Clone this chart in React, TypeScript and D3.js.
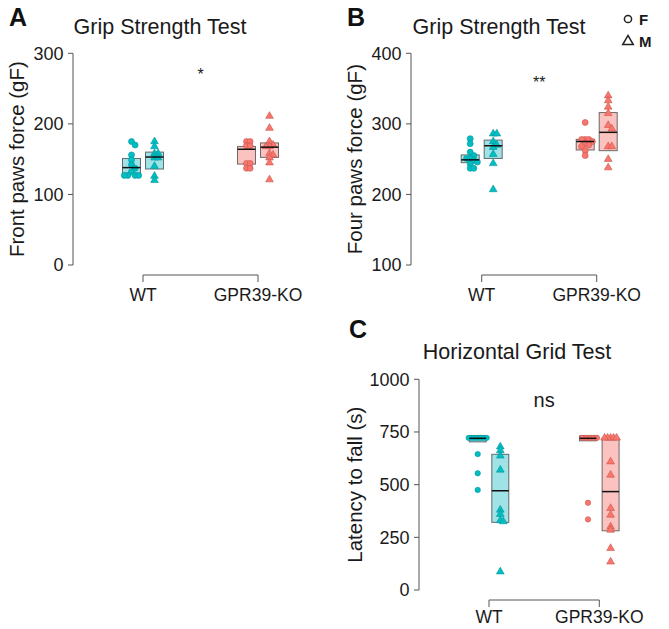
import React from "react";
import * as d3 from "d3";

// ---------- data ----------
const groups = ["WT", "GPR39-KO"];
const sexes = ["F", "M"];

// Panel A: front paws force (gF)
const frontWT_F = [175, 170, 156, 149, 142, 137, 132, 127, 127, 127, 127];
const frontWT_M = [175, 168, 158, 158, 152, 152, 140, 126, 120];
const frontKO_F = [175, 175, 169, 169, 144, 144, 137, 137];
const frontKO_M = [211, 194, 175, 170, 168, 168, 158, 156, 152, 145, 121];
// box: [low, mid, high]
const frontBoxWT_F = [130, 138, 151];
const frontBoxWT_M = [136, 153, 160];
const frontBoxKO_F = [143, 164, 168];
const frontBoxKO_M = [152.5, 167, 173];
const frontTicks = [0, 100, 200, 300];

// Panel B: four paws force (gF)
const fourWT_F = [279, 272, 260, 255, 251, 251, 248, 246, 243, 237, 237];
const fourWT_M = [286, 286, 275, 270, 267, 257, 244, 207];
const fourKO_F = [302, 278, 278, 278, 275, 272, 270, 268, 262, 255];
const fourKO_M = [340, 333, 324, 315, 298, 293, 268, 268, 250, 238];
const fourBoxWT_F = [245, 249, 256];
const fourBoxWT_M = [251, 269, 277];
const fourBoxKO_F = [263, 275, 278];
const fourBoxKO_M = [262, 288, 316];
const fourTicks = [100, 200, 300, 400];

// Panel C: latency to fall (s)
const gridWT_F = [722, 722, 722, 722, 722, 722, 722, 645, 554, 475];
const gridWT_M = [680, 662, 637, 570, 380, 360, 330, 325, 87];
const gridKO_F = [722, 722, 722, 722, 722, 722, 414, 335];
const gridKO_M = [722, 722, 722, 722, 722, 609, 546, 388, 356, 300, 285, 198, 134];
const gridBoxWT_F = [703, 720, 732];
const gridBoxWT_M = [321, 471, 644];
const gridBoxKO_F = [708, 720, 732];
const gridBoxKO_M = [281, 467, 720];
const gridTicks = [0, 250, 500, 750, 1000];

// ---------- styling ----------
const FONT = "'Liberation Sans', Arial, Helvetica, sans-serif";
const groupFill = ["#00BFC4", "#F8766D"];
const groupStroke = ["#00949a", "#c9564e"];
const boxFill = ["#9fe3e6", "#fbc3bf"];

type PanelCfg = {
  letter: string;
  letterX: number;
  letterY: number;
  title: string;
  titleX: number;
  titleY: number;
  yLabel: string;
  yLabelX: number;
  axisX: number;
  yTop: number;
  yBottom: number;
  domain: [number, number];
  ticks: number[];
  groupX: [number, number];
  bracketY: number;
  xLabelY: number;
  sexOffset: number;
  boxW: number;
  spacing: number;
  r: number;
  tri: number;
  values: number[][][]; // [group][sex]
  boxes: number[][][];
  annot: string;
  annotY: number;
  annotSize: number;
};

const panels: PanelCfg[] = [
  {
    letter: "A", letterX: 9, letterY: 26,
    title: "Grip Strength Test", titleX: 160, titleY: 34,
    yLabel: "Front paws force (gF)", yLabelX: 24,
    axisX: 73, yTop: 53.3, yBottom: 265, domain: [0, 300], ticks: frontTicks,
    groupX: [143, 258], bracketY: 275, xLabelY: 301,
    sexOffset: 11.5, boxW: 18, spacing: 3.6, r: 3, tri: 26,
    values: [[frontWT_F, frontWT_M], [frontKO_F, frontKO_M]],
    boxes: [[frontBoxWT_F, frontBoxWT_M], [frontBoxKO_F, frontBoxKO_M]],
    annot: "*", annotY: 80, annotSize: 16,
  },
  {
    letter: "B", letterX: 347, letterY: 26,
    title: "Grip Strength Test", titleX: 499, titleY: 34,
    yLabel: "Four paws force (gF)", yLabelX: 362,
    axisX: 411, yTop: 53.3, yBottom: 265, domain: [100, 400], ticks: fourTicks,
    groupX: [481.7, 596.7], bracketY: 275, xLabelY: 301,
    sexOffset: 11.5, boxW: 18, spacing: 3.6, r: 3, tri: 26,
    values: [[fourWT_F, fourWT_M], [fourKO_F, fourKO_M]],
    boxes: [[fourBoxWT_F, fourBoxWT_M], [fourBoxKO_F, fourBoxKO_M]],
    annot: "**", annotY: 88, annotSize: 16,
  },
  {
    letter: "C", letterX: 349, letterY: 338,
    title: "Horizontal Grid Test", titleX: 517, titleY: 359,
    yLabel: "Latency to fall (s)", yLabelX: 362,
    axisX: 419, yTop: 379.3, yBottom: 590, domain: [0, 1000], ticks: gridTicks,
    groupX: [489, 599.3], bracketY: 600, xLabelY: 623,
    sexOffset: 11.3, boxW: 17, spacing: 3, r: 2.7, tri: 26,
    values: [[gridWT_F, gridWT_M], [gridKO_F, gridKO_M]],
    boxes: [[gridBoxWT_F, gridBoxWT_M], [gridBoxKO_F, gridBoxKO_M]],
    annot: "ns", annotY: 407, annotSize: 20,
  },
];

// simple beeswarm: greedy placement around centre
function swarm(values: number[], y: (v: number) => number, cx: number, s: number) {
  const sorted = [...values].sort((a, b) => b - a);
  const placed: { x: number; y: number }[] = [];
  for (const v of sorted) {
    const py = y(v);
    let k = 0;
    let px = cx;
    while (true) {
      const off = k === 0 ? 0 : (k % 2 === 1 ? 1 : -1) * Math.ceil(k / 2) * s;
      px = cx + off;
      const hit = placed.some((p) => Math.hypot(p.x - px, p.y - py) < s - 0.01);
      if (!hit) break;
      k++;
    }
    placed.push({ x: px, y: py });
  }
  return placed;
}

function Panel({ cfg }: { cfg: PanelCfg }) {
  const y = d3.scaleLinear().domain(cfg.domain).range([cfg.yBottom, cfg.yTop]);
  const x = d3.scalePoint<string>().domain(groups).range(cfg.groupX);
  const tri = d3.symbol().type(d3.symbolTriangle).size(cfg.tri)()!;
  const midY = (cfg.yTop + cfg.yBottom) / 2;
  const x0 = x(groups[0])!;
  const x1 = x(groups[groups.length - 1])!;

  return (
    <g>
      <text x={cfg.letterX} y={cfg.letterY} fontFamily={FONT} fontWeight="bold" fontSize={25} fill="#111">
        {cfg.letter}
      </text>
      <text x={cfg.titleX} y={cfg.titleY} textAnchor="middle" fontFamily={FONT} fontSize={21.5} fill="#1a1a1a">
        {cfg.title}
      </text>
      <text
        transform={`translate(${cfg.yLabelX},${midY}) rotate(-90)`}
        textAnchor="middle"
        fontFamily={FONT}
        fontSize={20.5}
        fill="#1a1a1a"
      >
        {cfg.yLabel}
      </text>
      {/* y axis */}
      <line x1={cfg.axisX} x2={cfg.axisX} y1={y(cfg.ticks[0])} y2={y(cfg.ticks[cfg.ticks.length - 1])} stroke="#555" strokeWidth={1} />
      {cfg.ticks.map((t) => (
        <g key={t}>
          <line x1={cfg.axisX - 5} x2={cfg.axisX} y1={y(t)} y2={y(t)} stroke="#555" strokeWidth={1} />
          <text x={cfg.axisX - 9.5} y={y(t)} dy="0.36em" textAnchor="end" fontFamily={FONT} fontSize={18} fill="#1a1a1a">
            {t}
          </text>
        </g>
      ))}
      {/* x bracket axis */}
      <path
        d={`M${x0},${cfg.bracketY + 7}V${cfg.bracketY}H${x1}V${cfg.bracketY + 7}`}
        fill="none"
        stroke="#555"
        strokeWidth={1}
      />
      {groups.map((g) => (
        <text key={g} x={x(g)} y={cfg.xLabelY} textAnchor="middle" fontFamily={FONT} fontSize={17.5} fill="#1a1a1a">
          {g}
        </text>
      ))}
      {/* boxes and points */}
      {groups.map((g, gi) =>
        sexes.map((s, si) => {
          const cx = x(g)! + (si === 0 ? -1 : 1) * cfg.sexOffset;
          const [lo, mid, hi] = cfg.boxes[gi][si];
          const pts = swarm(cfg.values[gi][si], y, cx, cfg.spacing);
          return (
            <g key={g + s}>
              <rect
                x={cx - cfg.boxW / 2}
                y={y(hi)}
                width={cfg.boxW}
                height={y(lo) - y(hi)}
                fill={boxFill[gi]}
                stroke="#4a4a4a"
                strokeOpacity={0.8}
                strokeWidth={1}
              />
              {pts.map((p, i) =>
                si === 0 ? (
                  <circle key={i} cx={p.x} cy={p.y} r={cfg.r} fill={groupFill[gi]} stroke={groupStroke[gi]} strokeWidth={0.6} />
                ) : (
                  <path key={i} d={tri} transform={`translate(${p.x},${p.y})`} fill={groupFill[gi]} stroke={groupStroke[gi]} strokeWidth={0.6} />
                )
              )}
              <line x1={cx - cfg.boxW / 2} x2={cx + cfg.boxW / 2} y1={y(mid)} y2={y(mid)} stroke="#111" strokeWidth={1.5} />
            </g>
          );
        })
      )}
      <text x={(x0 + x1) / 2} y={cfg.annotY} textAnchor="middle" fontFamily={FONT} fontSize={cfg.annotSize} fill="#1a1a1a">
        {cfg.annot}
      </text>
    </g>
  );
}

export default function App() {
  const legendTri = d3.symbol().type(d3.symbolTriangle).size(48)()!;
  return (
    <svg width={669} height={629} style={{ position: "absolute", left: 0, top: 0, background: "#fff" }}>
      <rect width={669} height={629} fill="#fff" />
      {panels.map((p) => (
        <Panel key={p.letter} cfg={p} />
      ))}
      {/* legend */}
      <circle cx={628} cy={19} r={3.6} fill="none" stroke="#222" strokeWidth={1.5} />
      <text x={639} y={24.5} fontFamily={FONT} fontWeight="bold" fontSize={15} fill="#1a1a1a">
        {sexes[0]}
      </text>
      <path d={legendTri} transform="translate(628,41.5)" fill="none" stroke="#222" strokeWidth={1.5} />
      <text x={639} y={47} fontFamily={FONT} fontWeight="bold" fontSize={15} fill="#1a1a1a">
        {sexes[1]}
      </text>
    </svg>
  );
}
